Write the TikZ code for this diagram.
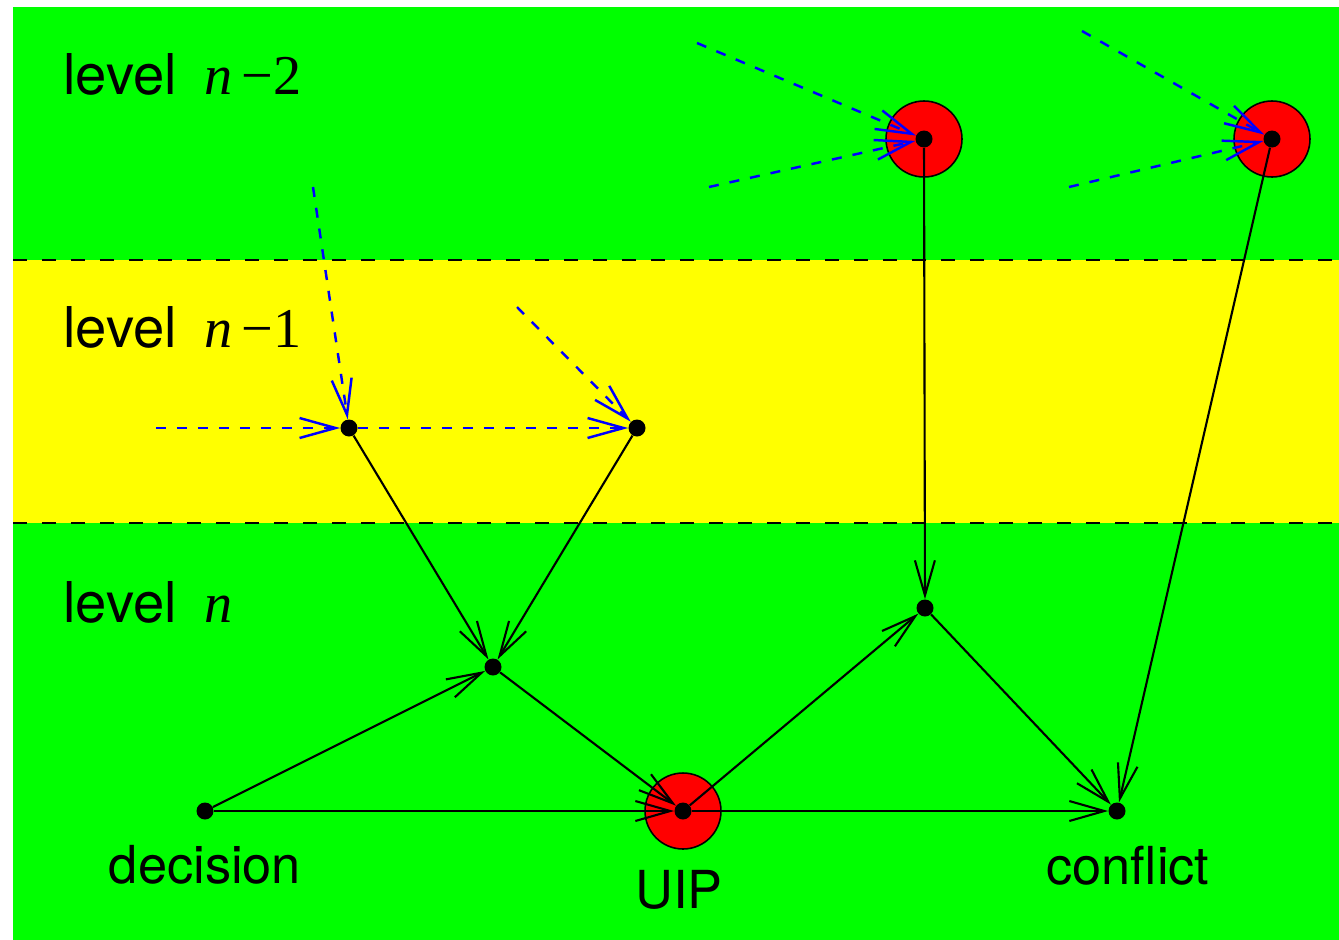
\documentclass[tikz,border=0pt]{standalone}
\usepackage{fontspec}
\setmainfont{TeX Gyre Heros}
\newfontfamily\tms{Liberation Serif}
\usepackage{tikz}
\usetikzlibrary{positioning,arrows.meta}
\definecolor{lvgreen}{RGB}{0,255,0}
\definecolor{lvyellow}{RGB}{255,255,0}
\newcommand{\levlabel}[1]{level\hspace{0.55cm}{\tms\itshape n}#1}

\begin{document}
\begin{tikzpicture}[x=0.02cm,y=-0.02cm,
  dot/.style={circle,fill=black,inner sep=0pt,minimum size=0.34cm},
  ring/.style={circle,draw=black,line width=0.9pt,fill=red,inner sep=0pt,minimum size=1.52cm},
  edge/.style={black,line width=1.2pt,-{Straight Barb[length=0.7cm,width=0.4cm]}},
  feed/.style={blue,line width=1.4pt,dash pattern=on 0.2cm off 0.22cm,-{Straight Barb[length=0.72cm,width=0.4cm]}},
  sep/.style={black,line width=0.6pt,dash pattern=on 0.28cm off 0.3cm},
  lvl/.style={anchor=base west,inner sep=0pt,font=\fontsize{32}{36}\selectfont},
  lbl/.style={anchor=base,inner sep=0pt,font=\fontsize{29.8}{34}\selectfont}]
\useasboundingbox (0,0) rectangle (1339,940);
% levels
\fill[lvgreen] (13,7) rectangle (1339,940);
\fill[lvyellow] (13,260) rectangle (1339,523);
\draw[sep] (13,260) -- (1339,260);
\draw[sep] (13,523) -- (1339,523);
\node[lvl] (l2) at (63,94) {\levlabel{\hspace{0.18cm}{\tms −2}}};
\node[lvl] (l1) at (63,347) {\levlabel{\hspace{0.18cm}{\tms −1}}};
\node[lvl] (l0) at (63,622) {\levlabel{}};
% implication graph
\node[ring] (fring) at (924,139) {};
\node[ring] (gring) at (1272,139) {};
\node[ring] (uipring) at (683,811) {};
\node[dot] (f) at (fring.center) {};
\node[dot] (g) at (gring.center) {};
\node[dot] (uip) at (uipring.center) {};
\node[dot] (a) at (349,428) {};
\node[dot] (b) at (637,428) {};
\node[dot] (c) at (493,667) {};
\node[dot] (d) at (205,811) {};
\node[dot] (e) at (925,608) {};
\node[dot] (confl) at (1117,811) {};
\coordinate (fa1) at (313,187);
\coordinate (fa2) at (156,428);
\coordinate (fb) at (517,307);
\coordinate (ff1) at (697,43);
\coordinate (ff2) at (709,187);
\coordinate (fg1) at (1082,31);
\coordinate (fg2) at (1069,187);
\draw[edge] (a)--(c); \draw[edge] (b)--(c); \draw[edge] (d)--(c); \draw[edge] (d)--(uip);
\draw[edge] (c)--(uip); \draw[edge] (uip)--(e); \draw[edge] (uip)--(confl); \draw[edge] (e)--(confl);
\draw[edge] (f)--(e); \draw[edge] (g)--(confl);
\draw[feed] (fa1)--(a); \draw[feed] (fa2)--(a); \draw[feed] (a)--(b); \draw[feed] (fb)--(b);
\draw[feed] (ff1)--(f); \draw[feed] (ff2)--(f); \draw[feed] (fg1)--(g); \draw[feed] (fg2)--(g);
\node[lbl] (dlbl) at (205,883) {decision};
\node[lbl] (ulbl) at (679,908) {UIP};
\node[lbl] (clbl) at (1128,884) {conflict};
\end{tikzpicture}
\end{document}
